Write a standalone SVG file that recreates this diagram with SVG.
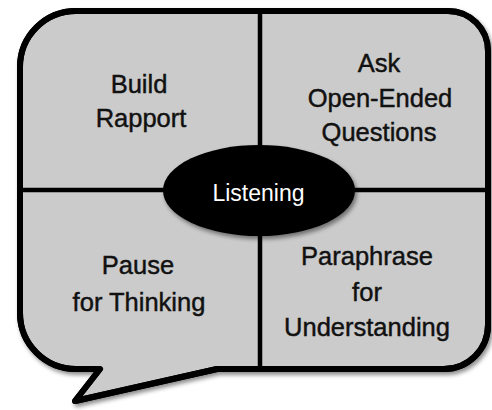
<svg xmlns="http://www.w3.org/2000/svg" width="492" height="410" viewBox="0 0 492 410">
  <style>
    .label { font-family: "Liberation Sans", Arial, sans-serif; font-size: 25.5px; fill: #111111; stroke: #111111; stroke-width: 0.45; text-anchor: middle; }
    .hub-label { font-family: "Liberation Sans", Arial, sans-serif; font-size: 23px; fill: #ffffff; text-anchor: middle; }
    .divider { stroke: #000000; stroke-width: 4.5; fill: none; }
    .outline { fill: none; stroke: #000000; stroke-width: 6; stroke-linejoin: round; }
  </style>
  <defs>
    <filter id="soft-shadow" x="-10%" y="-10%" width="125%" height="130%">
      <feDropShadow dx="2" dy="3" stdDeviation="2.2" flood-color="#000000" flood-opacity="0.45"/>
    </filter>
    <path id="bubble-shape" d="M 20 67 A 56 56 0 0 1 76 11 L 448 11 A 40 40 0 0 1 488 51 L 488 325 A 44 44 0 0 1 444 369 L 217 369 L 75 401 L 100 369 L 76 369 A 56 56 0 0 1 20 313 Z"/>
  </defs>

  <!-- speech bubble background -->
  <g id="bubble">
    <use href="#bubble-shape" fill="#cbcbcb" stroke="#000000" stroke-width="6" stroke-linejoin="round" filter="url(#soft-shadow)"/>
  </g>

  <!-- quadrant dividers -->
  <g id="dividers">
    <line class="divider" x1="260" y1="11" x2="260" y2="369"/>
    <line class="divider" x1="20" y1="190" x2="488" y2="190"/>
  </g>

  <!-- bubble border redrawn over divider ends -->
  <use href="#bubble-shape" class="outline"/>

  <g id="build-rapport">
    <text class="label" x="139" y="93">Build</text>
    <text class="label" x="141" y="127">Rapport</text>
  </g>

  <g id="ask-questions">
    <text class="label" x="379" y="72">Ask</text>
    <text class="label" x="380" y="107">Open-Ended</text>
    <text class="label" x="379" y="141">Questions</text>
  </g>

  <g id="pause-thinking">
    <text class="label" x="138" y="274">Pause</text>
    <text class="label" x="139" y="311">for Thinking</text>
  </g>

  <g id="paraphrase-understanding">
    <text class="label" x="367" y="265">Paraphrase</text>
    <text class="label" x="367" y="301">for</text>
    <text class="label" x="367" y="336">Understanding</text>
  </g>

  <g id="listening">
    <ellipse cx="259" cy="190.5" rx="96" ry="45.5" fill="#000000" filter="url(#soft-shadow)"/>
    <text class="hub-label" x="258.5" y="201">Listening</text>
  </g>
</svg>
